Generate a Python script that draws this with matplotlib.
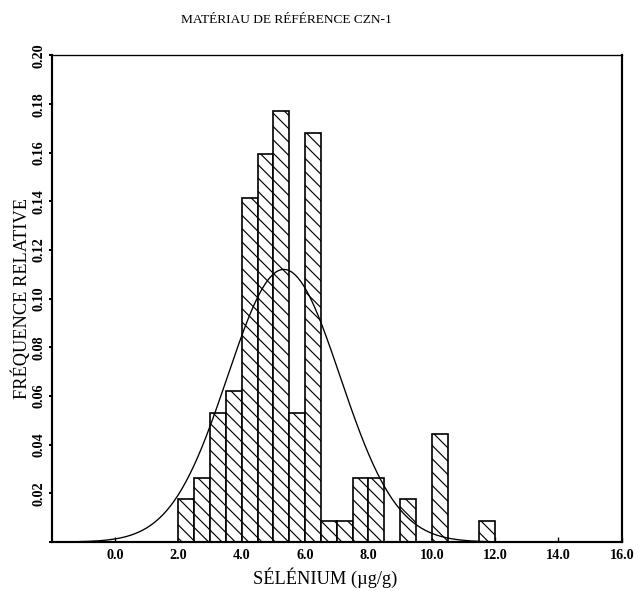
import numpy as np
import matplotlib
matplotlib.use("Agg")
import matplotlib.pyplot as plt

# Histogram (relative frequency per 0.5 ug/g bin)
BIN_LEFT = [2.0, 2.5, 3.0, 3.5, 4.0, 4.5, 5.0, 5.5, 6.0, 6.5, 7.0, 7.5, 8.0, 9.0, 10.0, 11.5]
REL_FREQ = [0.0177, 0.0265, 0.0531, 0.0619, 0.1413, 0.1595, 0.1770, 0.0531, 0.1681,
            0.0088, 0.0088, 0.0265, 0.0265, 0.0177, 0.0442, 0.0088]
BIN_WIDTH = 0.5

# Fitted normal curve parameters (estimated from the drawn curve)
CURVE_MEAN = 5.33
CURVE_SD = 1.78
CURVE_RANGE = (-1.2, 15.5)

X_TICKS = [0, 2, 4, 6, 8, 10, 12, 14, 16]
Y_TICKS = [0.0, 0.02, 0.04, 0.06, 0.08, 0.10, 0.12, 0.14, 0.16, 0.18, 0.20]

plt.rcParams["font.family"] = ["Liberation Serif", "DejaVu Serif"]
plt.rcParams["hatch.linewidth"] = 0.7

fig = plt.figure(figsize=(640 / 120, 591 / 120), dpi=120)
ax = fig.add_axes([0.0808, 0.0829, 0.8906, 0.8232])

ax.bar(BIN_LEFT, REL_FREQ, width=BIN_WIDTH, align="edge", facecolor="white",
       edgecolor="black", linewidth=1.0, hatch="\\\\\\", zorder=2)

xs = np.linspace(CURVE_RANGE[0], CURVE_RANGE[1], 400)
ys = BIN_WIDTH / (CURVE_SD * np.sqrt(2 * np.pi)) * np.exp(-0.5 * ((xs - CURVE_MEAN) / CURVE_SD) ** 2)
ax.plot(xs, ys, color="black", linewidth=0.8, zorder=3)

ax.set_xlim(-2, 16)
ax.set_ylim(0, 0.20)

ax.set_xticks(X_TICKS)
ax.set_xticklabels([f"{v:.1f}" for v in X_TICKS], fontsize=8.5, fontweight="bold")
ax.set_yticks(Y_TICKS)
ax.set_yticklabels([""] + [f"{v:.2f}" for v in Y_TICKS[1:]], fontsize=8.5,
                   fontweight="bold", rotation=90, va="center")
ax.tick_params(axis="x", direction="in", length=3, width=0.8, pad=4)
ax.tick_params(axis="y", direction="out", length=2, width=1.2, pad=2)

for side in ["left", "bottom", "right"]:
    ax.spines[side].set_linewidth(1.3)
ax.spines["top"].set_linewidth(0.8)

ax.set_xlabel("SÉLÉNIUM (µg/g)", fontsize=11)
ax.xaxis.set_label_coords(0.479, -0.052)
ax.set_ylabel("FRÉQUENCE RELATIVE", fontsize=11)
ax.yaxis.set_label_coords(-0.036, 0.5)

fig.text(0.448, 0.966, "MATÉRIAU DE RÉFÉRENCE CZN-1", fontsize=8,
         ha="center", va="center")

fig.savefig("out.png", dpi=120)
